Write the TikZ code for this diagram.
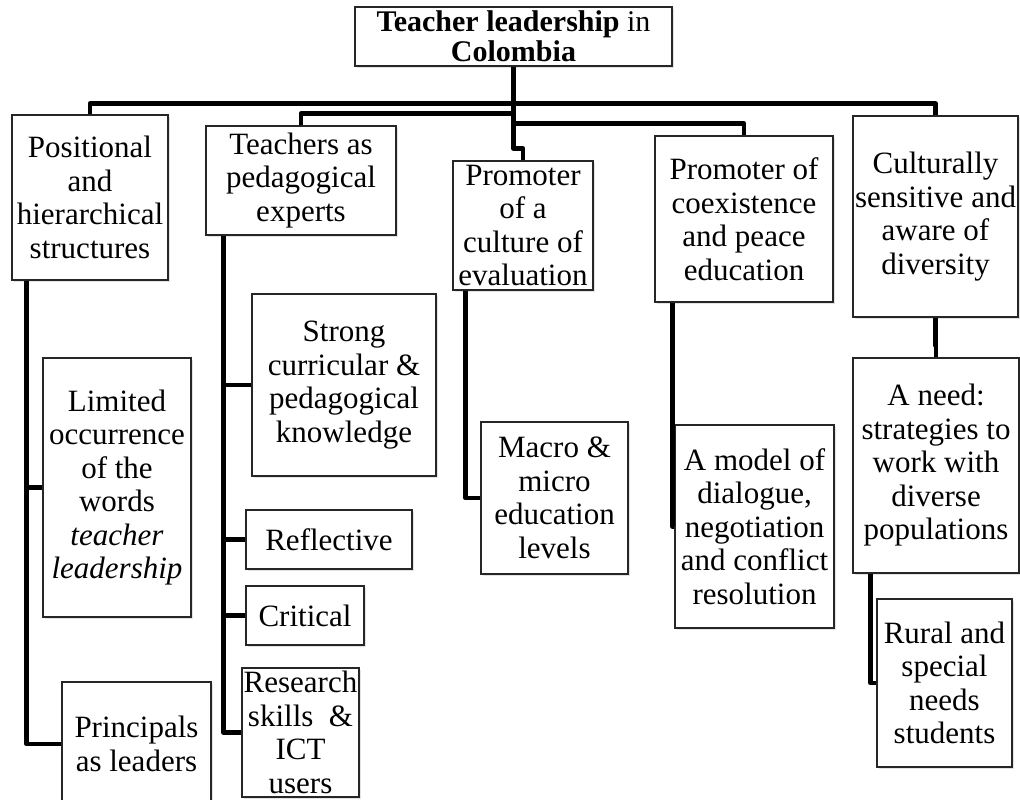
\documentclass[tikz,border=0pt]{standalone}
\usepackage{fontspec}
\setmainfont{Liberation Serif}
\usetikzlibrary{calc,shadows}

\newcommand\boxfont{\fontsize{31}{33.5}\selectfont}
\newcommand\titlefont{\fontsize{30}{30}\selectfont}

\tikzset{
  bx/.style={draw=black!85, line width=1.2pt, fill=white, inner sep=0pt,
    align=center, font=\boxfont,
    drop shadow={shadow xshift=1.5pt, shadow yshift=-1.8pt, opacity=0.22}},
  conn/.style={line width=4.5pt, line join=round, draw=black},
}

% \bx{name}{left}{top}{right}{bottom}{text}
\newcommand\bx[6]{\node[bx, minimum width={#4-#2}, minimum height={#5-#3}]
  (#1) at ({(#2+#4)/2},{(#3+#5)/2}) {#6};}

\begin{document}
\begin{tikzpicture}[x=1pt,y=-1pt]
\fill[white] (0,0) rectangle (1020,800);
\useasboundingbox (0,0) rectangle (1020,800);

% title
\node[bx, font=\titlefont, minimum width=317, minimum height=59]
  (T) at (513.5,36.5) {\textbf{Teacher leadership} in\\ \textbf{Colombia}};

% first level
\bx{P1}{12}{115}{168}{280}{Positional\\ and\\ hierarchical\\ structures}
\bx{P2}{206}{126}{396}{235}{Teachers as\\ pedagogical\\ experts}
\bx{P3}{453}{161}{593}{290}{Promoter\\ of a\\ culture of\\ evaluation}
\bx{P4}{655}{136}{833}{302}{Promoter of\\ coexistence\\ and peace\\ education}
\bx{P5}{853}{116}{1018}{317}{Culturally\\ sensitive and\\ aware of\\ diversity}

% second level
\bx{C1a}{43}{358}{191}{617}{Limited\\ occurrence\\ of the\\ words\\ \textit{teacher}\\ \textit{leadership}}
\bx{C1b}{62}{682}{211}{806}{Principals\\ as leaders}
\bx{C2a}{252}{294}{436}{476}{Strong\\ curricular \&\\ pedagogical\\ knowledge}
\bx{C2b}{246}{510}{412}{569}{Reflective}
\bx{C2c}{246}{586}{364}{645}{Critical}
\bx{C2d}{242}{668}{359}{797}{Research\\ skills \ \&\\ ICT\\ users}
\bx{C3}{481}{422}{628}{574}{Macro \&\\ micro\\ education\\ levels}
\bx{C4}{675}{425}{834}{628}{A model of\\ dialogue,\\ negotiation\\ and conflict\\ resolution}
\bx{C5a}{853}{358}{1019}{573}{A need:\\ strategies to\\ work with\\ diverse\\ populations}
\bx{C5b}{877}{599}{1012}{767}{Rural and\\ special\\ needs\\ students}

% bus lines under the title
\coordinate (bus1) at ($(T.south)+(0,37)$);
\coordinate (bus2) at ($(T.south)+(0,47)$);
\coordinate (bus3) at ($(T.south)+(0,57)$);
\draw[conn] (T.south) -- ++(0,82) -| (P3.north);
\draw[conn] (P1.north) |- (bus1) -| (P5.north);
\draw[conn] (P2.north) |- (bus2);
\draw[conn] (bus3) -| (P4.north);

% branches of each column
\coordinate (v1) at ($(P1.south west)+(15,0)$);
\draw[conn] (v1) |- (C1b.west);
\draw[conn] (C1a.west) -- (C1a.west -| v1);

\coordinate (v2) at ($(P2.south west)+(18,0)$);
\draw[conn] (v2) |- (C2d.west);
\draw[conn] (C2a.west) -- (C2a.west -| v2);
\draw[conn] (C2b.west) -- (C2b.west -| v2);
\draw[conn] (C2c.west) -- (C2c.west -| v2);

\coordinate (v3) at ($(P3.south west)+(13,0)$);
\draw[conn] (v3) |- (C3.west);

\coordinate (v4) at ($(P4.south west)+(18,0)$);
\draw[conn] (v4) |- (C4.west);

\draw[conn] (P5.south) -- ++(0,28) -| (C5a.north);
\coordinate (v5) at ($(C5a.south west)+(18,0)$);
\draw[conn] (v5) |- (C5b.west);
\end{tikzpicture}
\end{document}
